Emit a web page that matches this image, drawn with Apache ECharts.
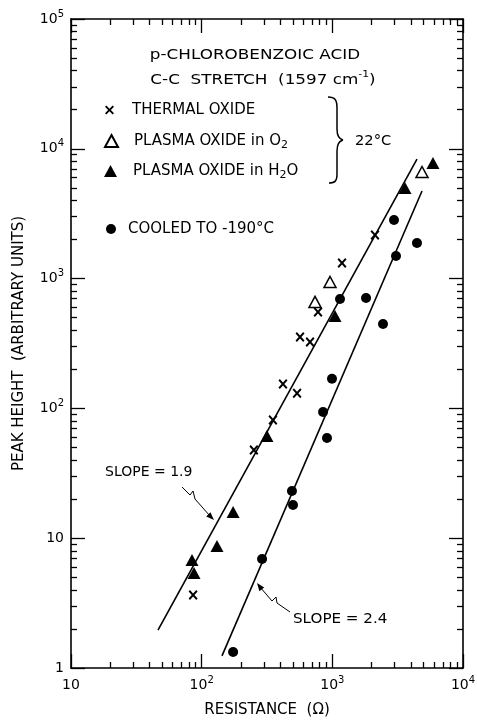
<!DOCTYPE html>
<html>
<head>
<meta charset="utf-8">
<title>Peak height vs resistance</title>
<script src="https://cdn.jsdelivr.net/npm/echarts@6/dist/echarts.min.js"></script>
<style>
  html, body { margin: 0; padding: 0; background: #fff; }
  #chart { width: 477px; height: 721px; }
</style>
</head>
<body>
<div id="chart"></div>
<script>
// values
const thermalR = [86, 251, 351, 419, 537, 566, 675, 777, 1186, 2120];
const thermalH = [3.65, 47.8, 81.4, 154, 131, 355, 325, 553, 1319, 2168];
const plasmaO2R = [737, 960, 4855];
const plasmaO2H = [661, 942, 6625];
const plasmaH2OR = [84.3, 87.4, 131, 174, 316, 1048, 3597, 5890];
const plasmaH2OH = [6.79, 5.39, 8.71, 15.9, 61.3, 515, 4990, 7777];
const cooledR = [174, 290, 491, 500, 849, 910, 994, 1145, 1811, 2443, 3070, 2965, 4444];
const cooledH = [1.33, 6.92, 23.1, 18.0, 93.8, 59.2, 169, 697, 709, 447, 1493, 2827, 1880];

// fitted lines (end points)
const slope19R = [46.3, 4444];
const slope19H = [1.96, 8340];
const slope24R = [143, 4855];
const slope24H = [1.24, 4730];

// ticks
const xTickValues = [10, 100, 1000, 10000];
const xTickLabels = ['10', '10{s|2}', '10{s|3}', '10{s|4}'];
const yTickValues = [1, 10, 100, 1000, 10000, 100000];
const yTickLabels = ['1', '10', '10{s|2}', '10{s|3}', '10{s|4}', '10{s|5}'];

const FONT = 'DejaVu Sans';
const xPath = 'path://M0,1.5L1.5,0L5,3.5L8.5,0L10,1.5L6.5,5L10,8.5L8.5,10L5,6.5L1.5,10L0,8.5L3.5,5Z';

function zip(a, b) {
  return a.map((v, i) => [v, b[i]]);
}

// 2..9 inside every decade
function minorTicks(decades) {
  const out = [];
  decades.forEach(d => {
    for (let k = 2; k <= 9; k++) out.push(k * d);
  });
  return out;
}

const xMinor = minorTicks([10, 100, 1000]);
const yMinor = minorTicks([1, 10, 100, 1000, 10000]);

const supRich = {
  s: { fontSize: 10, fontFamily: FONT, color: '#000', verticalAlign: 'top', lineHeight: 12 }
};

// one log axis; major = long ticks (+labels), minor = short ticks
function logAxis(position, min, max, ticks, major, labels, extra) {
  const axis = {
    type: 'log',
    logBase: 10,
    min: min,
    max: max,
    position: position,
    splitLine: { show: false },
    axisLine: { show: major, lineStyle: { color: '#000', width: 1.6 } },
    axisTick: {
      show: true,
      inside: true,
      length: major ? 14 : 6,
      customValues: ticks,
      lineStyle: { color: '#000', width: 1.3 }
    },
    axisLabel: { show: false }
  };
  if (labels) {
    axis.axisLabel = {
      show: true,
      customValues: ticks,
      showMinLabel: true,
      showMaxLabel: true,
      color: '#000',
      fontSize: 14,
      fontFamily: FONT,
      lineHeight: 20,
      margin: 7,
      rich: supRich,
      formatter: function (v) {
        const i = Math.round(Math.log10(v)) - Math.round(Math.log10(min));
        return labels[i];
      }
    };
  }
  return Object.assign(axis, extra || {});
}

const nameStyle = { color: '#000', fontSize: 15, fontFamily: FONT };

const xAxes = [
  logAxis('bottom', 10, 10000, xTickValues, true, xTickLabels, {
    name: 'RESISTANCE  (Ω)', nameLocation: 'middle', nameGap: 35, nameTextStyle: nameStyle
  }),
  logAxis('bottom', 10, 10000, xMinor, false),
  logAxis('top', 10, 10000, xTickValues, true),
  logAxis('top', 10, 10000, xMinor, false)
];

const yAxes = [
  logAxis('left', 1, 100000, yTickValues, true, yTickLabels, {
    name: 'PEAK HEIGHT  (ARBITRARY UNITS)', nameLocation: 'middle', nameGap: 44,
    nameRotate: 90, nameTextStyle: nameStyle
  }),
  logAxis('left', 1, 100000, yMinor, false),
  logAxis('right', 1, 100000, yTickValues, true),
  logAxis('right', 1, 100000, yMinor, false)
];

function legendAt(name, left, top, w, h, gap) {
  return {
    data: [name],
    left: left,
    top: top,
    padding: 0,
    itemWidth: w,
    itemHeight: h,
    selectedMode: false,
    textStyle: {
      color: '#000',
      fontSize: 15,
      fontFamily: FONT,
      lineHeight: 20,
      padding: [0, 0, 0, gap],
      rich: {
        sub: { fontSize: 11, fontFamily: FONT, color: '#000', verticalAlign: 'bottom', lineHeight: 13 }
      }
    },
    formatter: function (n) {
      return n.replace(/O2$/, 'O{sub|2}').replace('H2O', 'H{sub|2}O');
    }
  };
}

function arrowHead(tip, from) {
  const dx = tip[0] - from[0];
  const dy = tip[1] - from[1];
  const l = Math.sqrt(dx * dx + dy * dy);
  const ux = dx / l, uy = dy / l;
  const bx = tip[0] - ux * 8, by = tip[1] - uy * 8;
  return [tip, [bx - uy * 3, by + ux * 3], [bx + uy * 3, by - ux * 3]];
}

function curve(x1, y1, cx1, cy1, cx2, cy2, x2, y2) {
  return {
    type: 'bezierCurve',
    shape: { x1: x1, y1: y1, cpx1: cx1, cpy1: cy1, cpx2: cx2, cpy2: cy2, x2: x2, y2: y2 },
    style: { fill: null, stroke: '#000', lineWidth: 1.5 }
  };
}

function seg(x1, y1, x2, y2) {
  return {
    type: 'line',
    shape: { x1: x1, y1: y1, x2: x2, y2: y2 },
    style: { stroke: '#000', lineWidth: 1.5 }
  };
}

// text placed on the canvas, stretched a little to the figure's wide lettering
function label(text, x, y, align, stretch, extra) {
  return {
    type: 'text',
    x: x,
    y: y,
    scaleX: stretch,
    style: Object.assign({
      text: text,
      fill: '#000',
      fontSize: 14,
      fontFamily: FONT,
      textAlign: align,
      textVerticalAlign: 'middle'
    }, extra || {})
  };
}

const arrow19 = [[182, 487], [190, 495], [193, 491], [195, 499], [210, 516]];
const arrow24 = [[290, 612], [277, 603], [276, 597], [272, 601], [260, 587]];

// brace grouping the 22°C entries
const brace = [
  curve(328, 97, 335, 97, 337, 100, 337, 108),
  seg(337, 108, 337, 129),
  curve(337, 129, 337, 136, 339, 139, 343, 140),
  curve(343, 140, 339, 141, 337, 144, 337, 151),
  seg(337, 151, 337, 174),
  curve(337, 174, 337, 181, 335, 183, 329, 183)
];

const chart = echarts.init(document.getElementById('chart'));

chart.setOption({
  backgroundColor: '#fff',
  animation: false,
  grid: { left: 71, right: 14, top: 19, bottom: 53, outerBoundsMode: 'none' },
  xAxis: xAxes,
  yAxis: yAxes,
  legend: [
    legendAt('THERMAL OXIDE', 105, 100, 9, 10, 13),
    legendAt('PLASMA OXIDE in O2', 104, 131, 13, 12, 11),
    legendAt('PLASMA OXIDE in H2O', 104, 161, 13, 12, 11),
    legendAt('COOLED TO -190°C', 106, 219, 10, 10, 7)
  ],
  series: [
    {
      name: 'slope 1.9',
      type: 'line',
      data: zip(slope19R, slope19H),
      showSymbol: false,
      silent: true,
      lineStyle: { color: '#000', width: 1.6 },
      z: 1
    },
    {
      name: 'slope 2.4',
      type: 'line',
      data: zip(slope24R, slope24H),
      showSymbol: false,
      silent: true,
      lineStyle: { color: '#000', width: 1.6 },
      z: 1
    },
    {
      name: 'THERMAL OXIDE',
      type: 'scatter',
      data: zip(thermalR, thermalH),
      symbol: xPath,
      symbolSize: [9, 10],
      itemStyle: { color: '#000', opacity: 1 },
      z: 3
    },
    {
      name: 'PLASMA OXIDE in O2',
      type: 'scatter',
      data: zip(plasmaO2R, plasmaO2H),
      symbol: 'triangle',
      symbolSize: [12, 11],
      itemStyle: { color: '#fff', borderColor: '#000', borderWidth: 1.5, opacity: 1 },
      z: 3
    },
    {
      name: 'PLASMA OXIDE in H2O',
      type: 'scatter',
      data: zip(plasmaH2OR, plasmaH2OH),
      symbol: 'triangle',
      symbolSize: [13, 12],
      itemStyle: { color: '#000', opacity: 1 },
      z: 3
    },
    {
      name: 'COOLED TO -190°C',
      type: 'scatter',
      data: zip(cooledR, cooledH),
      symbol: 'circle',
      symbolSize: 10,
      itemStyle: { color: '#000', opacity: 1 },
      z: 3
    }
  ],
  graphic: [
    label('p-CHLOROBENZOIC ACID', 255, 55, 'center', 1.2),
    label('C-C  STRETCH  (1597 cm{sup|-1})', 263, 80, 'center', 1.2, {
      lineHeight: 20,
      rich: { sup: { fontSize: 9, fontFamily: FONT, fill: '#000', verticalAlign: 'top', lineHeight: 11 } }
    }),
    label('22°C', 355, 141, 'left', 1.05),
    ...brace,
    label('SLOPE = 1.9', 105, 472, 'left', 1),
    label('SLOPE = 2.4', 293, 619, 'left', 1.08),
    {
      type: 'polyline',
      shape: { points: arrow19 },
      style: { fill: null, stroke: '#000', lineWidth: 1 }
    },
    {
      type: 'polygon',
      shape: { points: arrowHead([214, 520], arrow19[arrow19.length - 1]) },
      style: { fill: '#000' }
    },
    {
      type: 'polyline',
      shape: { points: arrow24 },
      style: { fill: null, stroke: '#000', lineWidth: 1 }
    },
    {
      type: 'polygon',
      shape: { points: arrowHead([257, 583], arrow24[arrow24.length - 1]) },
      style: { fill: '#000' }
    }
  ]
});
</script>
</body>
</html>
